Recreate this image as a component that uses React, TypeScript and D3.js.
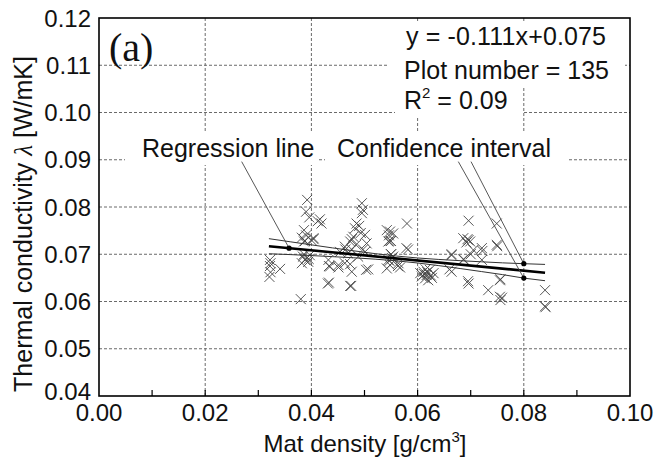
import React from "react";
import * as d3 from "d3";

// ---- data ----
const pointsX = [
  0.0322, 0.0322, 0.0323, 0.0321, 0.0341, 0.0323,
  0.0380,
  0.0392, 0.0396, 0.0390, 0.0386, 0.0390, 0.0386, 0.0400, 0.0384, 0.0388, 0.0394, 0.0382, 0.0397, 0.0391, 0.0386, 0.0395, 0.0382, 0.0388,
  0.0404, 0.0416, 0.0419, 0.0412, 0.0404,
  0.0432, 0.0435, 0.0451, 0.0431, 0.0463, 0.0463, 0.0476, 0.0475, 0.0469, 0.0454, 0.0433, 0.0451, 0.0473, 0.0476, 0.0464, 0.0433, 0.0473, 0.0476,
  0.0495, 0.0497, 0.0495, 0.0485, 0.0482, 0.0479, 0.0473, 0.0484, 0.0501, 0.0504, 0.0501, 0.0503, 0.0488, 0.0507, 0.0497, 0.0490, 0.0493,
  0.0542, 0.0548, 0.0554, 0.0545, 0.0550, 0.0554, 0.0545, 0.0548, 0.0542, 0.0564, 0.0567, 0.0550, 0.0547, 0.0563, 0.0546, 0.0552, 0.0550, 0.0547,
  0.0580, 0.0579, 0.0582,
  0.0611, 0.0617, 0.0608, 0.0623, 0.0620, 0.0630, 0.0614, 0.0625, 0.0615, 0.0605, 0.0627, 0.0618, 0.0612,
  0.0664, 0.0664, 0.0660, 0.0664,
  0.0696, 0.0686, 0.0696, 0.0699, 0.0705, 0.0686, 0.0696, 0.0695, 0.0694, 0.0687, 0.0692, 0.0700,
  0.0721, 0.0721, 0.0722,
  0.0733, 0.0755, 0.0755, 0.0756, 0.0749, 0.0749, 0.0750, 0.0759, 0.0756,
  0.0840, 0.0840, 0.0841,
];
const pointsY = [
  0.0688, 0.0675, 0.0662, 0.0652, 0.0669, 0.0681,
  0.0605,
  0.0815, 0.0778, 0.0790, 0.0751, 0.0740, 0.0727, 0.0730, 0.0695, 0.0688, 0.0684, 0.0681, 0.0698, 0.0692, 0.0700, 0.0690, 0.0735, 0.0728,
  0.0734, 0.0774, 0.0765, 0.0770, 0.0732,
  0.0688, 0.0674, 0.0677, 0.0638, 0.0681, 0.0716, 0.0663, 0.0633, 0.0702, 0.0705, 0.0675, 0.0672, 0.0679, 0.0710, 0.0710, 0.0640, 0.0633, 0.0732,
  0.0808, 0.0794, 0.0787, 0.0765, 0.0755, 0.0737, 0.0727, 0.0720, 0.0741, 0.0723, 0.0705, 0.0667, 0.0695, 0.0668, 0.0710, 0.0760, 0.0745,
  0.0751, 0.0748, 0.0744, 0.0727, 0.0728, 0.0695, 0.0688, 0.0677, 0.0670, 0.0681, 0.0672, 0.0700, 0.0686, 0.0675, 0.0740, 0.0692, 0.0700, 0.0728,
  0.0765, 0.0713, 0.0710,
  0.0663, 0.0656, 0.0653, 0.0667, 0.0645, 0.0660, 0.0649, 0.0655, 0.0668, 0.0660, 0.0650, 0.0662, 0.0658,
  0.0698, 0.0663, 0.0668, 0.0700,
  0.0771, 0.0734, 0.0730, 0.0727, 0.0709, 0.0689, 0.0638, 0.0643, 0.0732, 0.0689, 0.0725, 0.0700,
  0.0713, 0.0688, 0.0707,
  0.0624, 0.0645, 0.0610, 0.0603, 0.0765, 0.0720, 0.0717, 0.0608, 0.0647,
  0.0624, 0.0590, 0.0588,
];

const regX = [0.032, 0.084];
const regY = [0.0717, 0.0661];

const ciX = [0.032, 0.036, 0.04, 0.044, 0.048, 0.052, 0.056, 0.06, 0.064, 0.068, 0.072, 0.076, 0.08, 0.084];
const ciUpper = [0.0733, 0.07264, 0.07199, 0.07134, 0.07072, 0.07013, 0.06962, 0.06921, 0.0689, 0.06864, 0.0684, 0.06818, 0.068, 0.06785];
const ciLower = [0.0701, 0.06993, 0.06972, 0.06949, 0.06925, 0.06896, 0.06861, 0.06815, 0.06759, 0.06698, 0.06634, 0.06569, 0.06495, 0.0644];

const regDotX = 0.0358;
const ciDotX = 0.08;

const xTicks = [0, 0.02, 0.04, 0.06, 0.08, 0.1];
const xMinorTicks = [0.01, 0.02, 0.03, 0.04, 0.05, 0.06, 0.07, 0.08, 0.09];
const yTicks = [0.04, 0.05, 0.06, 0.07, 0.08, 0.09, 0.1, 0.11, 0.12];

// leader anchors (data coordinates of the label ends)
const regLeaderFrom = [0.02687, 0.0896];
const ciLeaderFromLower = [0.06767, 0.0896];
const ciLeaderFromUpper = [0.07006, 0.0896];

const W = 654;
const H = 468;
const SANS = "'Liberation Sans', Arial, Helvetica, sans-serif";
const SERIF = "'Liberation Serif', 'Times New Roman', serif";

export default function App() {
  const x = d3.scaleLinear().domain([0, 0.1]).range([99, 630]);
  const y = d3.scaleLinear().domain([0.04, 0.12]).range([396, 18]);
  const [x0, x1] = x.range();
  const [y0, y1] = y.range();

  const line = d3
    .line<[number, number]>()
    .x((d) => x(d[0]))
    .y((d) => y(d[1]));

  const ciU = ciX.map((v, i) => [v, ciUpper[i]] as [number, number]);
  const ciL = ciX.map((v, i) => [v, ciLower[i]] as [number, number]);
  const reg = regX.map((v, i) => [v, regY[i]] as [number, number]);
  const regAt = (xv: number) =>
    regY[0] + ((regY[1] - regY[0]) * (xv - regX[0])) / (regX[1] - regX[0]);
  const idx = ciX.indexOf(ciDotX);
  const upDot = [ciDotX, ciUpper[idx]];
  const loDot = [ciDotX, ciLower[idx]];
  const rDot = [regDotX, regAt(regDotX)];

  const fmt = d3.format(".2f");
  const s = 5;

  return (
    <svg
      width={W}
      height={H}
      style={{ position: "absolute", left: 0, top: 0, background: "#fff" }}
    >
      <rect x={0} y={0} width={W} height={H} fill="#fff" />
      {/* grid */}
      <g stroke="#6a6a6a" strokeWidth={1} strokeDasharray="3,2" fill="none">
        {xTicks
          .filter((t) => t > 0 && t < 0.1)
          .map((t) => (
            <line key={"gx" + t} x1={x(t)} x2={x(t)} y1={y0} y2={y1} />
          ))}
        {yTicks
          .filter((t) => t > 0.04 && t < 0.12)
          .map((t) => (
            <line key={"gy" + t} x1={x0} x2={x1} y1={y(t)} y2={y(t)} />
          ))}
      </g>
      {/* text backgrounds */}
      <g fill="#fff">
        <rect x={125} y={132} width={194} height={33} />
        <rect x={325} y={132} width={242} height={33} />
        <rect x={388} y={23} width={237} height={64} />
        <rect x={395} y={87} width={128} height={30} />
      </g>
      {/* points */}
      <g stroke="#444" strokeWidth={0.9} fill="none">
        {pointsX.map((px, i) => {
          const cx = x(px);
          const cy = y(pointsY[i]);
          return (
            <path
              key={i}
              d={`M${cx - s},${cy - s}L${cx + s},${cy + s}M${cx - s},${cy + s}L${cx + s},${cy - s}`}
            />
          );
        })}
      </g>
      {/* confidence interval */}
      <path d={line(ciU) || ""} fill="none" stroke="#333" strokeWidth={1} />
      <path d={line(ciL) || ""} fill="none" stroke="#333" strokeWidth={1} />
      {/* regression */}
      <path d={line(reg) || ""} fill="none" stroke="#000" strokeWidth={2.6} />
      {/* leaders */}
      <g stroke="#444" strokeWidth={0.9}>
        <line x1={x(regLeaderFrom[0])} y1={y(regLeaderFrom[1])} x2={x(rDot[0])} y2={y(rDot[1])} />
        <line x1={x(ciLeaderFromLower[0])} y1={y(ciLeaderFromLower[1])} x2={x(loDot[0])} y2={y(loDot[1])} />
        <line x1={x(ciLeaderFromUpper[0])} y1={y(ciLeaderFromUpper[1])} x2={x(upDot[0])} y2={y(upDot[1])} />
      </g>
      <g fill="#000">
        <circle cx={x(rDot[0])} cy={y(rDot[1])} r={2.6} />
        <circle cx={x(upDot[0])} cy={y(upDot[1])} r={2.6} />
        <circle cx={x(loDot[0])} cy={y(loDot[1])} r={2.6} />
      </g>
      {/* frame */}
      <rect x={x0} y={y1} width={x1 - x0} height={y0 - y1} fill="none" stroke="#000" strokeWidth={1.6} />
      {/* bottom ticks */}
      <g stroke="#000" strokeWidth={1.2}>
        {xMinorTicks.map((t) => (
          <line key={"t" + t} x1={x(t)} x2={x(t)} y1={y0} y2={y0 - 6} />
        ))}
      </g>
      {/* tick labels */}
      <g fontFamily={SANS} fontSize={24} fill="#111">
        {xTicks.map((t) => (
          <text key={"xl" + t} x={x(t)} y={421} textAnchor="middle">
            {fmt(t)}
          </text>
        ))}
        {yTicks.map((t) => (
          <text key={"yl" + t} x={91} y={Math.min(y(t) + 8.5, 400)} textAnchor="end">
            {fmt(t)}
          </text>
        ))}
      </g>
      {/* axis titles */}
      <text x={365} y={452} textAnchor="middle" fontFamily={SANS} fontSize={24} fill="#111">
        Mat density [g/cm
        <tspan fontSize={15} dy={-10}>3</tspan>
        <tspan dy={10}>]</tspan>
      </text>
      <text
        transform={`translate(32,224) rotate(-90)`}
        textAnchor="middle"
        fontFamily={SANS}
        fontSize={25}
        fill="#111"
      >
        Thermal conductivity{" "}
        <tspan fontFamily={SERIF} fontStyle="italic">λ</tspan> [W/mK]
      </text>
      {/* annotations */}
      <text x={109} y={61} fontFamily={SERIF} fontSize={40} fill="#111">
        (a)
      </text>
      <g fontFamily={SANS} fontSize={25} fill="#111">
        <text x={406} y={45} textLength={200} lengthAdjust="spacing">y = -0.111x+0.075</text>
        <text x={404} y={79}>Plot number = 135</text>
        <text x={404} y={109}>
          R<tspan fontSize={15} dy={-11}>2</tspan>
          <tspan dy={11}> = 0.09</tspan>
        </text>
        <text x={142} y={157}>Regression line</text>
        <text x={337} y={157}>Confidence interval</text>
      </g>
    </svg>
  );
}
